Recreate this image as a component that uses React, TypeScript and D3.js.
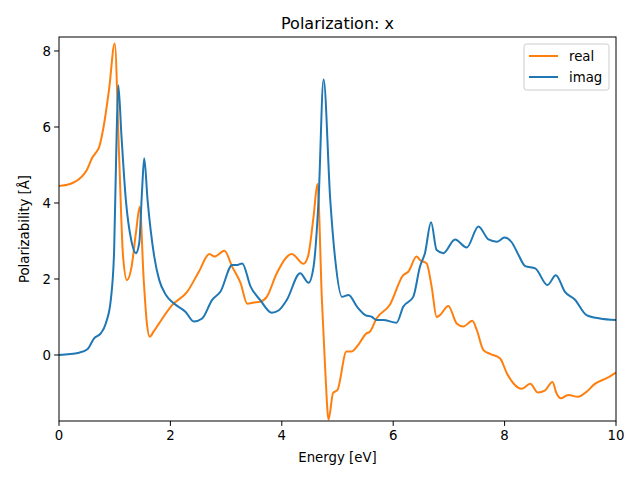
import React from "react";
import * as d3 from "d3";

const realE = [0, 0.2, 0.4, 0.5, 0.6, 0.65, 0.72, 0.8, 0.9, 1.0, 1.08, 1.15, 1.22, 1.3, 1.38, 1.45, 1.52, 1.58, 1.63, 1.7, 1.8, 2.03, 2.3, 2.51, 2.7, 2.79, 2.97, 3.11, 3.26, 3.38, 3.5, 3.61, 3.73, 3.91, 4.18, 4.39, 4.47, 4.57, 4.64, 4.72, 4.78, 4.84, 4.92, 5.0, 5.16, 5.25, 5.37, 5.52, 5.58, 5.7, 5.94, 6.18, 6.27, 6.42, 6.48, 6.6, 6.69, 6.78, 6.84, 6.99, 7.14, 7.26, 7.42, 7.5, 7.62, 7.74, 7.92, 8.04, 8.16, 8.31, 8.46, 8.6, 8.72, 8.86, 8.93, 9.01, 9.14, 9.32, 9.47, 9.62, 9.83, 10];
const realV = [4.45, 4.5, 4.68, 4.87, 5.2, 5.3, 5.47, 6.0, 7.0, 8.2, 5.2, 2.6, 1.97, 2.3, 3.2, 3.9, 2.0, 0.8, 0.48, 0.62, 0.84, 1.31, 1.66, 2.19, 2.66, 2.59, 2.74, 2.32, 1.89, 1.35, 1.38, 1.4, 1.53, 2.15, 2.66, 2.4, 2.59, 3.64, 4.5, 1.45, -0.4, -1.7, -1.0, -0.92, 0.09, 0.09, 0.26, 0.57, 0.61, 0.96, 1.32, 2.1, 2.19, 2.59, 2.5, 2.41, 1.8, 1.0, 1.05, 1.29, 0.83, 0.75, 0.9, 0.66, 0.13, 0.03, -0.09, -0.48, -0.75, -0.89, -0.76, -0.99, -0.94, -0.71, -1.0, -1.14, -1.05, -1.1, -0.97, -0.76, -0.61, -0.46];

const imagE = [0, 0.36, 0.51, 0.63, 0.75, 0.84, 0.93, 0.99, 1.03, 1.065, 1.12, 1.2, 1.3, 1.38, 1.44, 1.49, 1.53, 1.59, 1.71, 1.8, 1.92, 2.06, 2.27, 2.42, 2.57, 2.75, 2.9, 3.11, 3.2, 3.29, 3.44, 3.61, 3.82, 3.94, 4.09, 4.33, 4.48, 4.57, 4.66, 4.75, 4.87, 4.96, 5.08, 5.2, 5.35, 5.5, 5.62, 5.7, 5.82, 6.06, 6.18, 6.36, 6.48, 6.57, 6.68, 6.78, 6.9, 7.11, 7.32, 7.53, 7.71, 7.86, 8.0, 8.13, 8.25, 8.37, 8.55, 8.77, 8.92, 9.08, 9.26, 9.47, 9.71, 10];
const imagV = [0, 0.06, 0.15, 0.44, 0.57, 0.83, 1.45, 2.76, 5.5, 7.1, 5.8, 4.08, 3.0, 2.68, 2.94, 4.3, 5.18, 4.08, 2.59, 1.97, 1.58, 1.36, 1.14, 0.88, 0.96, 1.45, 1.67, 2.37, 2.37, 2.41, 1.8, 1.45, 1.11, 1.17, 1.45, 2.15, 1.9, 2.32, 4.08, 7.25, 4.08, 2.5, 1.53, 1.58, 1.27, 1.05, 1.0, 0.92, 0.92, 0.85, 1.27, 1.53, 2.32, 2.68, 3.49, 2.76, 2.68, 3.04, 2.83, 3.38, 3.04, 2.98, 3.09, 2.96, 2.63, 2.34, 2.28, 1.84, 2.1, 1.67, 1.46, 1.05, 0.96, 0.92];

const xTicks = [0, 2, 4, 6, 8, 10];
const yTicks = [0, 2, 4, 6, 8];
const seriesNames = ["real", "imag"];
const seriesColors = ["#ff7f0e", "#1f77b4"];

export default function App() {
  const W = 640, H = 480;
  const left = 59, right = 616, top = 37, bottom = 421;
  const x = d3.scaleLinear().domain([0, 10]).range([left, right]);
  const y = d3.scaleLinear().domain([-1.737, 8.368]).range([bottom, top]);
  const line = d3.line<[number, number]>().x(d => x(d[0])).y(d => y(d[1])).curve(d3.curveMonotoneX);
  const realPts = realE.map((e, i) => [e, realV[i]] as [number, number]);
  const imagPts = imagE.map((e, i) => [e, imagV[i]] as [number, number]);
  const font = "DejaVu Sans, sans-serif";
  return (
    <svg width={W} height={H} style={{ position: "absolute", left: 0, top: 0 }} fontFamily={font}>
      <rect width={W} height={H} fill="white" />
      <defs>
        <clipPath id="clip"><rect x={left} y={top} width={right - left} height={bottom - top} /></clipPath>
      </defs>
      <g clipPath="url(#clip)">
        <path d={line(realPts) || ""} fill="none" stroke={seriesColors[0]} strokeWidth={2} strokeLinejoin="round" />
        <path d={line(imagPts) || ""} fill="none" stroke={seriesColors[1]} strokeWidth={2} strokeLinejoin="round" />
      </g>
      <rect x={left} y={top} width={right - left} height={bottom - top} fill="none" stroke="black" strokeWidth={1} />
      {xTicks.map(t => (
        <g key={"x" + t}>
          <line x1={x(t)} x2={x(t)} y1={bottom} y2={bottom + 4.9} stroke="black" />
          <text x={x(t)} y={bottom + 19} textAnchor="middle" fontSize={13.3}>{t}</text>
        </g>
      ))}
      {yTicks.map(t => (
        <g key={"y" + t}>
          <line x1={left - 4.9} x2={left} y1={y(t)} y2={y(t)} stroke="black" />
          <text x={left - 8} y={y(t) + 4.8} textAnchor="end" fontSize={13.3}>{t}</text>
        </g>
      ))}
      <text x={(left + right) / 2} y={29} textAnchor="middle" fontSize={16}>Polarization: x</text>
      <text x={(left + right) / 2} y={462} textAnchor="middle" fontSize={13.3}>Energy [eV]</text>
      <text transform={`translate(29,${(top + bottom) / 2}) rotate(-90)`} textAnchor="middle" fontSize={13.3}>Polarizability [Å]</text>
      <g>
        <rect x={524} y={44} width={85} height={46} rx={2.5} fill="white" fillOpacity={0.8} stroke="#cccccc" />
        {seriesNames.map((n, i) => (
          <g key={n}>
            <line x1={529} x2={558} y1={56 + i * 21} y2={56 + i * 21} stroke={seriesColors[i]} strokeWidth={2} />
            <text x={569} y={61 + i * 21} fontSize={13.3}>{n}</text>
          </g>
        ))}
      </g>
    </svg>
  );
}
